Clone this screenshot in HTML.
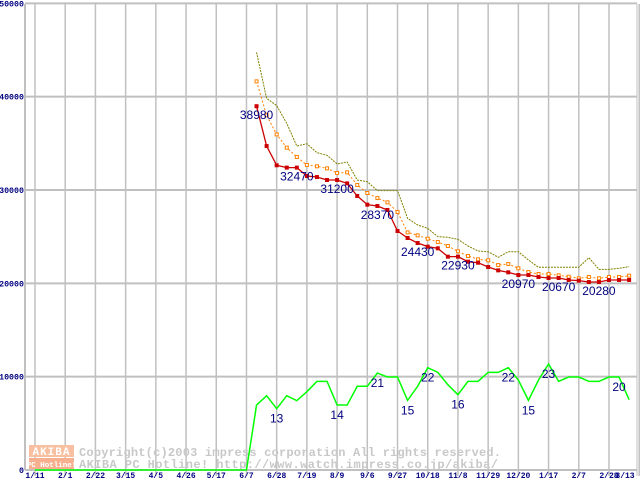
<!DOCTYPE html>
<html><head><meta charset="utf-8"><style>
html,body{margin:0;padding:0;background:#fff;width:640px;height:480px;overflow:hidden}
svg{display:block}
</style></head><body>
<svg id="chart" width="640" height="480" xmlns="http://www.w3.org/2000/svg" font-family="Liberation Mono, monospace"></svg>
<script>
const xTickLabels=["1/11","2/1","2/22","3/15","4/5","4/26","5/17","6/7","6/28","7/19","8/9","9/6","9/27","10/18","11/8","11/29","12/20","1/17","2/7","2/28","3/13"];
const yTickValues=[0,10000,20000,30000,40000,50000];
const startWeek=22;
const minPrice=[38980,34710,32650,32400,32400,31500,31390,31070,31070,30710,29360,28430,28290,27860,25610,24860,24320,23930,23750,22860,22860,22320,22210,21750,21390,21180,20890,20890,20680,20570,20570,20360,20290,20140,20140,20360,20360,20360];
const avgPrice=[41640,38000,35960,34540,33540,32680,32540,32320,31820,31890,30540,29680,29140,28680,27640,25460,25140,24780,24430,24000,23430,22930,22570,22470,21960,22070,21610,21210,21000,21000,20860,20710,20540,20680,20540,20680,20680,20820];
const maxPrice=[44750,39820,39040,37140,34710,34960,34000,33720,32790,33000,31070,30890,29930,29930,29930,26960,26250,25890,25000,24930,24710,24000,23460,23390,22790,23390,23390,22500,21720,21720,21720,21720,21720,22750,21500,21500,21610,21790];
const shopCount=[6960,7960,6570,7960,7430,8390,9500,9500,6960,6960,8970,8970,10390,9960,9960,7460,8970,10960,10460,9140,8070,9500,9500,10460,10460,10960,9640,7460,9640,11360,9500,9960,9960,9500,9500,9960,9960,7530];
const priceLabelIdx=[0,4,8,12,16,20,26,30,34];
const priceLabelText=["38980","32470","31200","28370","24430","22930","20970","20670","20280"];
const countLabelIdx=[2,8,12,15,17,20,25,27,29,36];
const countLabelText=["13","14","21","15","22","16","22","15","23","20"];

const NS="http://www.w3.org/2000/svg";
const svg=document.getElementById('chart');
const X=w=>35+w*10.07;
const Y=v=>470-v*0.009333;
function el(t,a,p){const e=document.createElementNS(NS,t);for(const k in a)e.setAttribute(k,a[k]);(p||svg).appendChild(e);return e;}

const grid=el('g',{});


el('line',{x1:25,y1:4,x2:25,y2:470,stroke:'#c0c0c0','stroke-width':2},grid);
el('line',{x1:637,y1:4,x2:637,y2:476,stroke:'#c0c0c0','stroke-width':1},grid);
yTickValues.forEach(v=>{
  el('line',{x1:25,y1:Y(v),x2:637,y2:Y(v),stroke:'#c0c0c0','stroke-width':2},grid);
  const t=el('text',{x:24,y:Y(v)+3,'text-anchor':'end','font-size':'8.3','font-weight':'bold',fill:'#000080'});
  t.textContent=String(v);
  
  
});
xTickLabels.forEach((s,i)=>{
  const x=X(i*3);
  el('line',{x1:x,y1:4,x2:x,y2:476,stroke:'#c0c0c0','stroke-width':1.5},grid);
  const t=el('text',{x:(i==20?625:x),y:478,'text-anchor':'middle','font-size':'8','font-weight':'bold',fill:'#000080'});
  t.textContent=s;
  
  
});

// watermark
const wm=el('g',{});


el('rect',{x:29,y:445,width:45,height:12,fill:'#f8c0a0'},wm);
el('rect',{x:29,y:458,width:45,height:11,fill:'#f6b090'},wm);
let t=el('text',{x:51.5,y:455,'text-anchor':'middle','font-size':'11','font-weight':'bold',fill:'#fff','letter-spacing':'1'},wm);t.textContent='AKIBA';
t=el('text',{x:51.5,y:467,'text-anchor':'middle','font-size':'7.5','font-weight':'bold',fill:'#fff'},wm);t.textContent='PC Hotline!';
t=el('text',{x:79,y:456,'font-size':'12','font-weight':'bold',fill:'#c8c8c8',textLength:422,lengthAdjust:'spacing'},wm);t.textContent='Copyright(c)2003 impress corporation All rights reserved.';
t=el('text',{x:79,y:468,'font-size':'12','font-weight':'bold',fill:'#c8c8c8',textLength:419,lengthAdjust:'spacing'},wm);t.textContent='AKIBA PC Hotline!  http://www.watch.impress.co.jp/akiba/';

function pts(arr){return arr.map((v,i)=>X(startWeek+i)+','+Y(v)).join(' ');}

let gp=[];for(let w=0;w<startWeek;w++)gp.push(X(w)+','+Y(0));
const gl=el('polyline',{points:gp.join(' ')+' '+pts(shopCount),fill:'none',stroke:'#00ff00','stroke-width':1.5});



const ml=el('polyline',{points:pts(maxPrice),fill:'none',stroke:'#808000','stroke-width':1,'stroke-dasharray':'2,1'});



const al=el('polyline',{points:pts(avgPrice),fill:'none',stroke:'#ff8000','stroke-width':1,'stroke-dasharray':'2,2'});


avgPrice.forEach((v,i)=>{
  const r=el('rect',{x:X(startWeek+i)-1.5,y:Y(v)-1.5,width:3,height:3,fill:'#fff',stroke:'#ff8000','stroke-width':1});
  
  
});

const rl=el('polyline',{points:pts(minPrice),fill:'none',stroke:'#cc0000','stroke-width':1.3});


minPrice.forEach((v,i)=>{
  const r=el('rect',{x:X(startWeek+i)-2,y:Y(v)-2,width:4,height:4,fill:'#cc0000'});
  
  
});

priceLabelIdx.forEach((idx,k)=>{
  const t=el('text',{x:X(startWeek+idx),y:Y(minPrice[idx])+13,'text-anchor':'middle','font-family':'Liberation Sans, sans-serif','font-size':'12',fill:'#000080'});
  t.textContent=priceLabelText[k];
  
  
});
countLabelIdx.forEach((idx,k)=>{
  const t=el('text',{x:X(startWeek+idx),y:Y(shopCount[idx])+14,'text-anchor':'middle','font-family':'Liberation Sans, sans-serif','font-size':'12',fill:'#000080'});
  t.textContent=countLabelText[k];
  
  
});
</script>
</body></html>
